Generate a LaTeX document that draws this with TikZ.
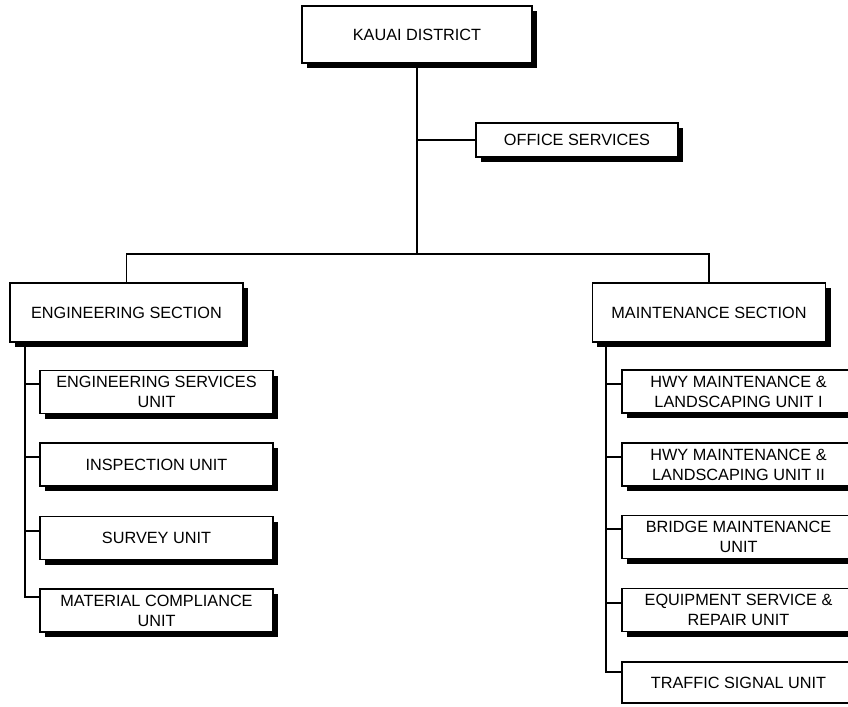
\documentclass[tikz,border=0pt]{standalone}
\usepackage{fontspec}
\setmainfont{Liberation Sans}
\usetikzlibrary{shadows}

\tikzset{
  plainbox/.style={draw=black, line width=1.2pt, fill=white, align=center,
    inner sep=0pt, font=\fontsize{12.2}{15}\selectfont},
  orgbox/.style={plainbox,
    drop shadow={shadow xshift=3.8pt, shadow yshift=-3.8pt, fill=black, opacity=1}},
  headbox/.style={orgbox, minimum width=172.5pt, minimum height=42.75pt},
  sidebox/.style={orgbox, minimum width=151.5pt, minimum height=25.5pt},
  sectionbox/.style={orgbox, minimum width=175pt, minimum height=44.25pt},
  unitbox/.style={orgbox, minimum width=174.75pt, minimum height=32.25pt},
  lastunitbox/.style={plainbox, minimum width=174.75pt, minimum height=31pt},
  link/.style={draw=black, line width=1.2pt}
}

\begin{document}
\begin{tikzpicture}[x=0.75pt, y=-0.75pt]
  \useasboundingbox (0,0) rectangle (848,706);

  % top of the tree
  \node[headbox] (kauai) at (417,34.5) {KAUAI DISTRICT};
  \node[sidebox] (office) at (577,140) {OFFICE SERVICES};

  % sections
  \node[sectionbox] (eng) at (126.5,312.5) {ENGINEERING SECTION};
  \node[sectionbox] (maint) at (709,312.5) {MAINTENANCE SECTION};

  % engineering units
  \node[unitbox] (esu) at (156.5,392) {ENGINEERING SERVICES\\UNIT};
  \node[unitbox] (insp) at (156.5,464.5) {INSPECTION UNIT};
  \node[unitbox] (survey) at (156.5,538) {SURVEY UNIT};
  \node[unitbox] (matl) at (156.5,610.5) {MATERIAL COMPLIANCE\\UNIT};

  % maintenance units
  \node[unitbox] (hwy1) at (738.5,391.5) {HWY MAINTENANCE \&\\LANDSCAPING UNIT I};
  \node[unitbox] (hwy2) at (738.5,464.5) {HWY MAINTENANCE \&\\LANDSCAPING UNIT II};
  \node[unitbox] (bridge) at (738.5,537) {BRIDGE MAINTENANCE\\UNIT};
  \node[unitbox] (equip) at (738.5,610) {EQUIPMENT SERVICE \&\\REPAIR UNIT};
  \node[lastunitbox] (traffic) at (738.5,682.5) {TRAFFIC SIGNAL UNIT};

  % branch points
  \coordinate (bus) at (417,254);
  \coordinate (lspine) at (25,342);
  \coordinate (rspine) at (606,342);

  % trunk, office branch and section bus
  \path[link] (kauai.south) -- (bus);
  \path[link] (office.west) -- (office.west -| kauai.south);
  \path[link] (eng.north) |- (bus) -| (maint.north);

  % engineering spine
  \path[link] (lspine) |- ([yshift=-10.5pt]esu.north west);
  \path[link] (lspine) |- ([yshift=-11.25pt]insp.north west);
  \path[link] (lspine) |- ([yshift=-11.25pt]survey.north west);
  \path[link] (lspine) |- ([yshift=-6.75pt]matl.north west);

  % maintenance spine
  \path[link] (rspine) |- ([yshift=-11.25pt]hwy1.north west);
  \path[link] (rspine) |- ([yshift=-11.25pt]hwy2.north west);
  \path[link] (rspine) |- ([yshift=-10.5pt]bridge.north west);
  \path[link] (rspine) |- ([yshift=-11.25pt]equip.north west);
  \path[link] (rspine) |- ([yshift=-8.25pt]traffic.north west);
\end{tikzpicture}
\end{document}
